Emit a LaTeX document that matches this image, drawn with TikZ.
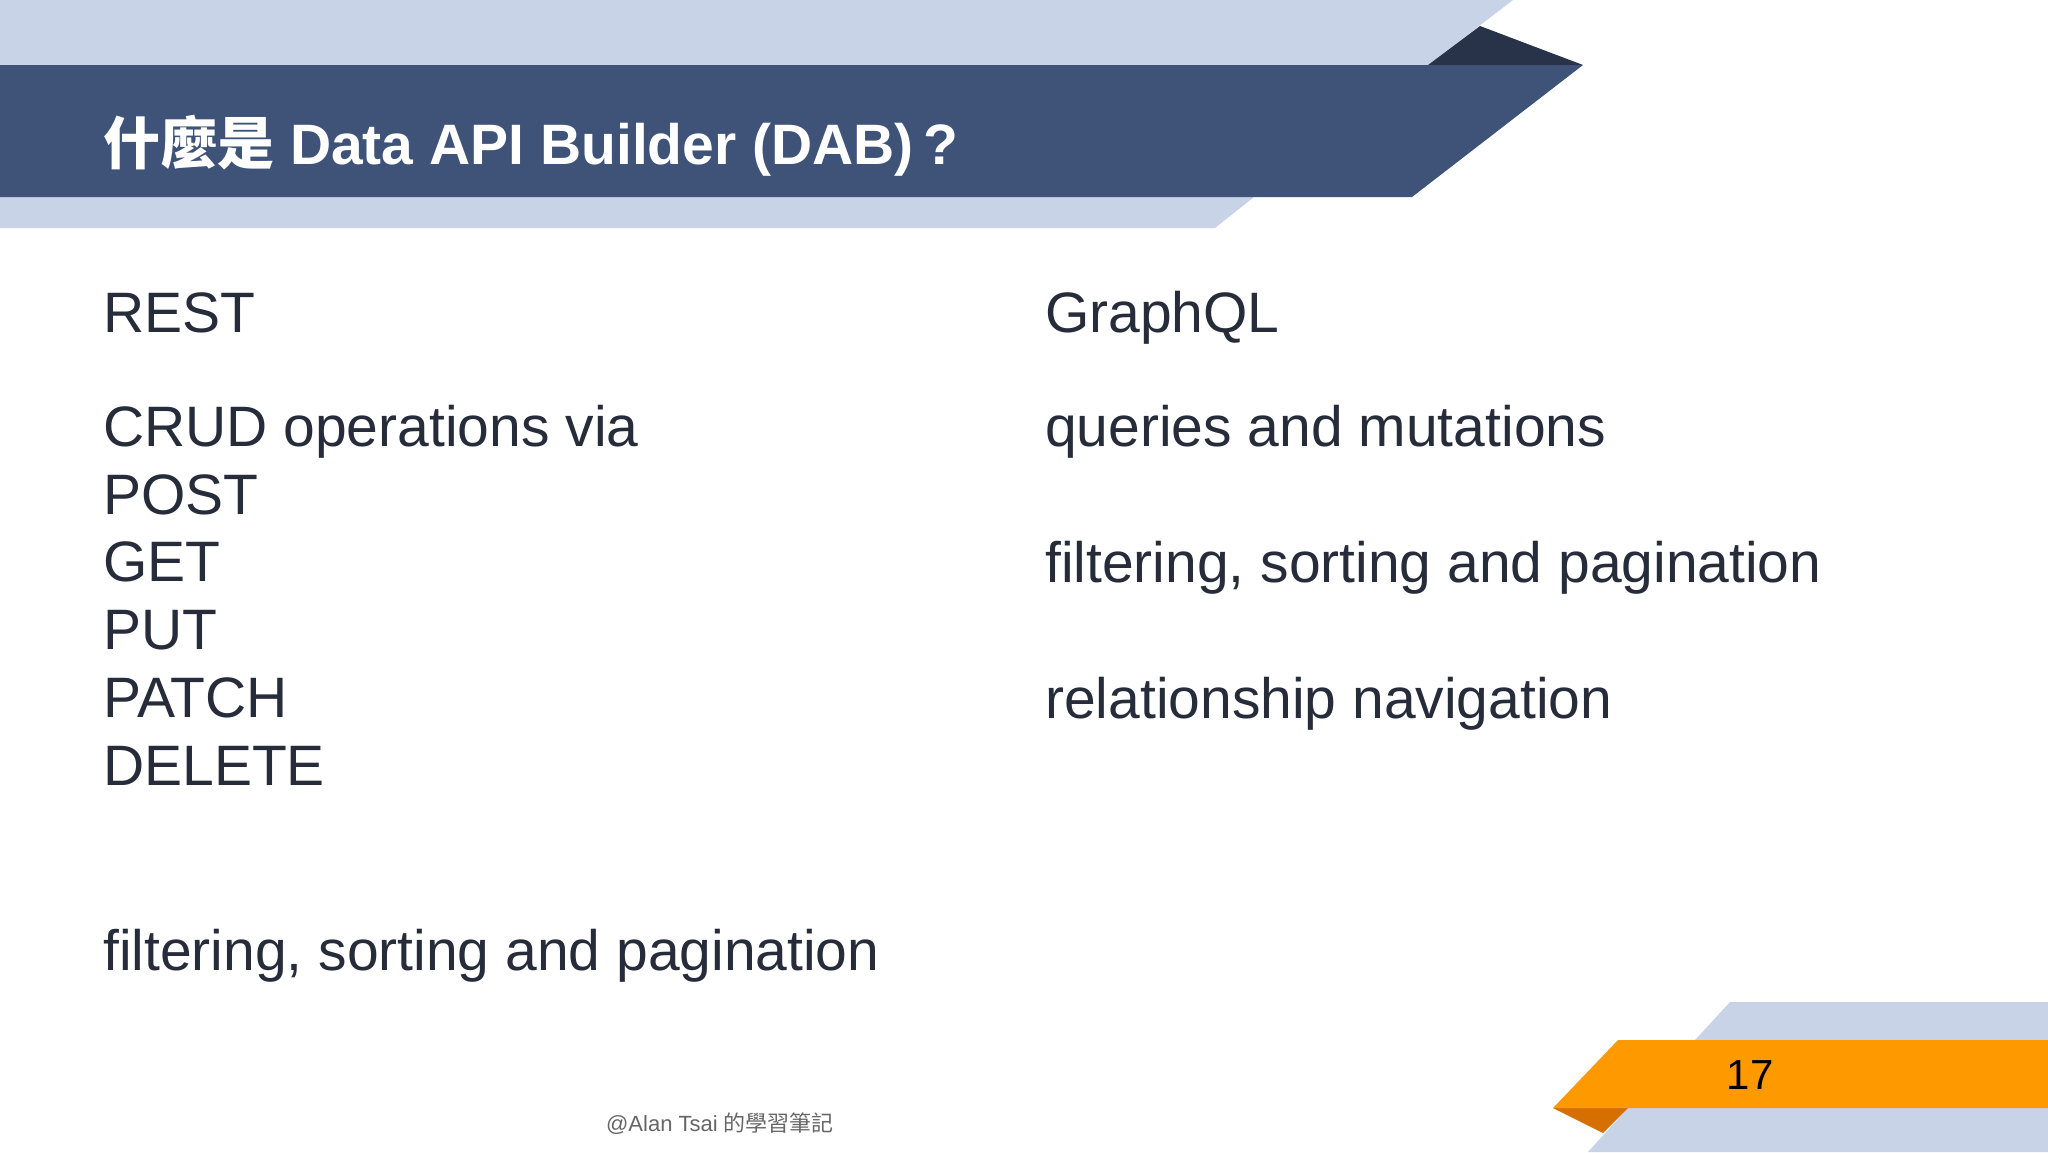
\documentclass[tikz,border=0pt]{standalone}
\usepackage{fontspec}
\setmainfont{Liberation Sans}
\newfontfamily\cjk{Noto Sans CJK TC}
\definecolor{lightb}{HTML}{C8D3E7}
\definecolor{darkb}{HTML}{3F5278}
\definecolor{darkerb}{HTML}{283249}
\definecolor{txt}{HTML}{262C3A}
\definecolor{orng}{HTML}{FE9900}
\definecolor{dorng}{HTML}{D57000}
\tikzset{body/.style={anchor=base west,inner sep=0,text=txt,font=\fontsize{57}{62}\selectfont}}
\begin{document}
\begin{tikzpicture}[x=1pt,y=-1pt]
\useasboundingbox (0,0) rectangle (2048,1152);
\fill[white] (0,0) rectangle (2048,1152);
% top bands
\fill[lightb] (0,0) -- (1513,0) -- (1428,65) -- (0,65) -- cycle;
\fill[darkerb] (1480,26) -- (1583,65) -- (1428,65) -- cycle;
\fill[lightb] (0,197) -- (1254,197) -- (1215,228) -- (0,228) -- cycle;
\fill[darkb] (0,65) -- (1583,65) -- (1412,197) -- (0,197) -- cycle;
% bottom bands
\fill[lightb] (1730,1002) -- (2048,1002) -- (2048,1040) -- (1695,1040) -- cycle;
\fill[lightb] (1628,1108) -- (2048,1108) -- (2048,1152) -- (1588,1152) -- cycle;
\fill[dorng] (1553,1108) -- (1628,1108) -- (1603,1133) -- cycle;
\fill[orng] (1618,1040) -- (2048,1040) -- (2048,1108) -- (1553,1108) -- cycle;
\node (num) at (1750,1075) [inner sep=0,font=\fontsize{42}{46}\selectfont] {17};
% title
\node (title) at (103,164) [anchor=base west,inner sep=0,text=white,font=\fontsize{57}{62}\selectfont\bfseries] {{\cjk\bfseries 什麼是} Data API Builder (DAB)\,?};
% left column
\node (rest) at (103,332) [body] {REST};
\node (crud) at (103,446) [body] {CRUD operations via};
\node (post) at (103,514) [body] {POST};
\node (get) at (103,581) [body] {GET};
\node (put) at (103,649) [body] {PUT};
\node (patch) at (103,717) [body] {PATCH};
\node (del) at (103,785) [body] {DELETE};
\node (lf) at (103,970) [body] {filtering, sorting and pagination};
% right column
\node (gql) at (1045,332) [body] {GraphQL};
\node (qm) at (1045,446) [body] {queries and mutations};
\node (rf) at (1045,582) [body] {filtering, sorting and pagination};
\node (rel) at (1045,718) [body] {relationship navigation};
% footer
\node (foot) at (720,1131) [anchor=base,inner sep=0,text=gray!80!black,font=\fontsize{22}{24}\selectfont] {@Alan Tsai {\cjk 的學習筆記}};
\end{tikzpicture}
\end{document}
